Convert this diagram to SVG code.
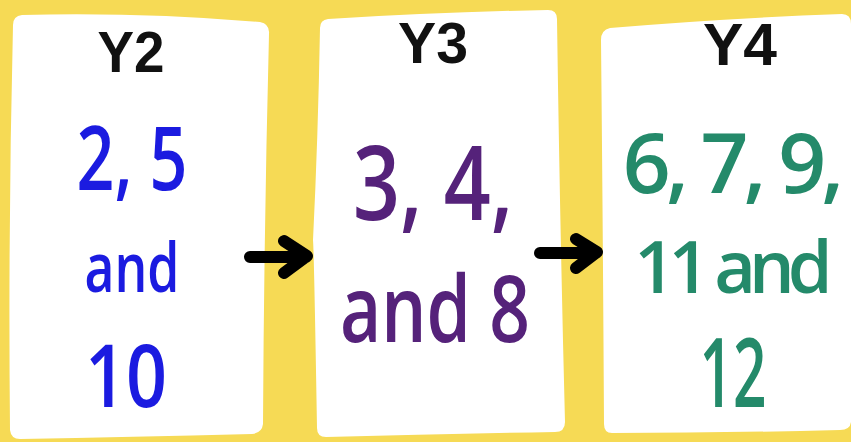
<svg xmlns="http://www.w3.org/2000/svg" width="851" height="442" viewBox="0 0 851 442">
<style>
.card{fill:#ffffff;stroke:none}
.hd{font-family:"Liberation Sans",Arial,sans-serif;font-weight:bold;fill:#111111;text-anchor:middle}
.num{font-family:"Open Sans","Noto Sans",sans-serif;font-weight:600;text-anchor:middle}
.blue{fill:#1b1be0}
.purple{fill:#55227a}
.green{fill:#248a6a}
.arrow{fill:none;stroke:#000000;stroke-width:12;stroke-linecap:round;stroke-linejoin:round}
</style>
<rect x="0" y="0" width="851" height="442" fill="#f6da55"/>
<g id="card-y2">
<path class="card" d="M22,15 Q140,12 260,22 Q270,24 269,34 Q264,230 263,424 Q262,433 252,434 Q130,437 20,439 Q11,439 10,430 Q8,230 13,25 Q13,16 22,15 Z"/>
<text class="hd" x="131" y="72" font-size="58" textLength="67" lengthAdjust="spacingAndGlyphs">Y2</text>
<text class="num blue" x="132" y="190" font-size="88" textLength="111" lengthAdjust="spacingAndGlyphs">2, 5</text>
<text class="num blue" x="132" y="292" font-size="68" textLength="95" lengthAdjust="spacingAndGlyphs">and</text>
<text class="num blue" x="126" y="407" font-size="87" textLength="82" lengthAdjust="spacingAndGlyphs">10</text>
</g>
<g id="card-y3">
<path class="card" d="M328,19 Q440,12 548,10 Q557,10 557,19 Q560,230 565,422 Q565,432 555,432 Q440,434 326,437 Q317,437 317,428 Q314,250 313,240 Q318,140 320,28 Q320,20 328,19 Z"/>
<text class="hd" x="433" y="63" font-size="57" textLength="70" lengthAdjust="spacingAndGlyphs">Y3</text>
<text class="num purple" x="433" y="220" font-size="104" textLength="160" lengthAdjust="spacingAndGlyphs">3, 4,</text>
<text class="num purple" x="435" y="342" font-size="92" textLength="190" lengthAdjust="spacingAndGlyphs">and 8</text>
</g>
<g id="card-y4">
<path class="card" d="M610,28 Q730,18 842,14 Q851,14 851,24 L851,422 Q850,430 840,430 Q720,433 612,433 Q604,433 604,424 Q603,240 601,40 Q601,30 610,28 Z"/>
<text class="hd" x="740" y="65" font-size="60" textLength="74" lengthAdjust="spacingAndGlyphs">Y4</text>
<text class="num green" x="731" y="193" font-size="84" letter-spacing="-5">6, 7, 9,</text>
<text class="num green" x="730" y="293" font-size="72" letter-spacing="-7">11 and</text>
<text class="num green" x="733" y="407" font-size="96" textLength="67" lengthAdjust="spacingAndGlyphs">12</text>
</g>
<g id="connectors">
<path class="arrow" d="M250,257 L306,257 M284,241 L307,256 L284,273"/>
<path class="arrow" d="M540,253 L596,253 M576,239 L597,252 L576,268"/>
</g>
</svg>
